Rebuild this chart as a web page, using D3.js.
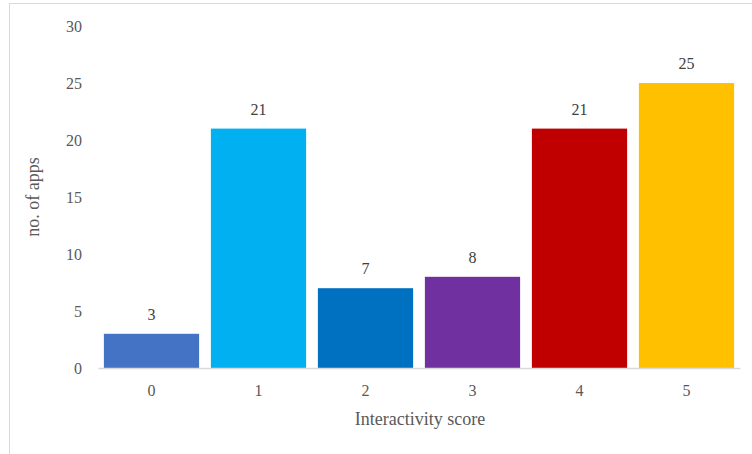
<!DOCTYPE html>
<html>
<head>
<meta charset="utf-8">
<script src="https://cdn.jsdelivr.net/npm/d3@7"></script>
<style>
  body { margin: 0; background: #fff; }
</style>
</head>
<body>
<script>
// data
const scores = ["0", "1", "2", "3", "4", "5"];
const appCounts = [3, 21, 7, 8, 21, 25];
const barColors = ["#4472c4", "#00b0f0", "#0070c0", "#7030a0", "#c00000", "#ffc000"];
const yTicks = [0, 5, 10, 15, 20, 25, 30];

const fontFamily = "Liberation Serif";
const textColor = "#595959";

// dimensions
const dms = {
    width: 752,
    height: 454,
    margins: { top: 26, right: 12, bottom: 86, left: 98 }
};
dms.innerWidth = dms.width - dms.margins.left - dms.margins.right;
dms.innerHeight = dms.height - dms.margins.top - dms.margins.bottom;

const svg = d3.select("body")
    .append("svg")
        .attr("width", dms.width)
        .attr("height", dms.height)
        .attr("font-family", fontFamily);

// chart frame
svg.append("rect")
    .attr("x", 9.5)
    .attr("y", 3.5)
    .attr("width", 800)
    .attr("height", 500)
    .attr("fill", "none")
    .attr("stroke", "#d9d9d9");

const g = svg.append("g")
    .attr("transform", `translate(${dms.margins.left},${dms.margins.top})`);

// scales
const xScale = d3.scaleBand()
    .domain(scores)
    .range([0, dms.innerWidth])
    .paddingInner(0.11)
    .paddingOuter(0.055);

const yScale = d3.scaleLinear()
    .domain([0, 30])
    .range([dms.innerHeight, 0]);

// y axis (labels only)
const yAxis = g.append("g")
    .call(d3.axisLeft(yScale).tickValues(yTicks).tickSize(0).tickPadding(16))
    .attr("font-family", fontFamily)
    .attr("font-size", 16);
yAxis.select(".domain").remove();
yAxis.selectAll("text")
    .attr("font-family", fontFamily)
    .attr("fill", textColor);

// bars
g.selectAll("rect.bar")
    .data(appCounts)
    .enter()
    .append("rect")
        .attr("class", "bar")
        .attr("x", (d, i) => xScale(scores[i]))
        .attr("y", d => yScale(d))
        .attr("width", xScale.bandwidth())
        .attr("height", d => dms.innerHeight - yScale(d))
        .attr("fill", (d, i) => barColors[i]);

// value labels
g.selectAll("text.val")
    .data(appCounts)
    .enter()
    .append("text")
        .attr("class", "val")
        .attr("x", (d, i) => xScale(scores[i]) + xScale.bandwidth() / 2)
        .attr("y", d => yScale(d) - 14)
        .attr("text-anchor", "middle")
        .attr("font-family", fontFamily)
        .attr("font-size", 16)
        .attr("fill", "#404040")
        .text(d => d);

// x axis
const xAxis = g.append("g")
    .attr("transform", `translate(0,${dms.innerHeight})`)
    .call(d3.axisBottom(xScale).tickSize(0).tickPadding(17))
    .attr("font-family", fontFamily)
    .attr("font-size", 16);
xAxis.select(".domain").attr("stroke", "#d9d9d9").attr("stroke-width", 1.3);
xAxis.selectAll("text")
    .attr("font-family", fontFamily)
    .attr("fill", textColor);

// axis titles
svg.append("text")
    .attr("x", 420)
    .attr("y", 425)
    .attr("text-anchor", "middle")
    .attr("font-family", fontFamily)
    .attr("font-size", 18)
    .attr("fill", textColor)
    .text("Interactivity score");

svg.append("text")
    .attr("transform", "translate(39,197) rotate(-90)")
    .attr("text-anchor", "middle")
    .attr("font-family", fontFamily)
    .attr("font-size", 18)
    .attr("fill", textColor)
    .text("no. of apps");
</script>
</body>
</html>
